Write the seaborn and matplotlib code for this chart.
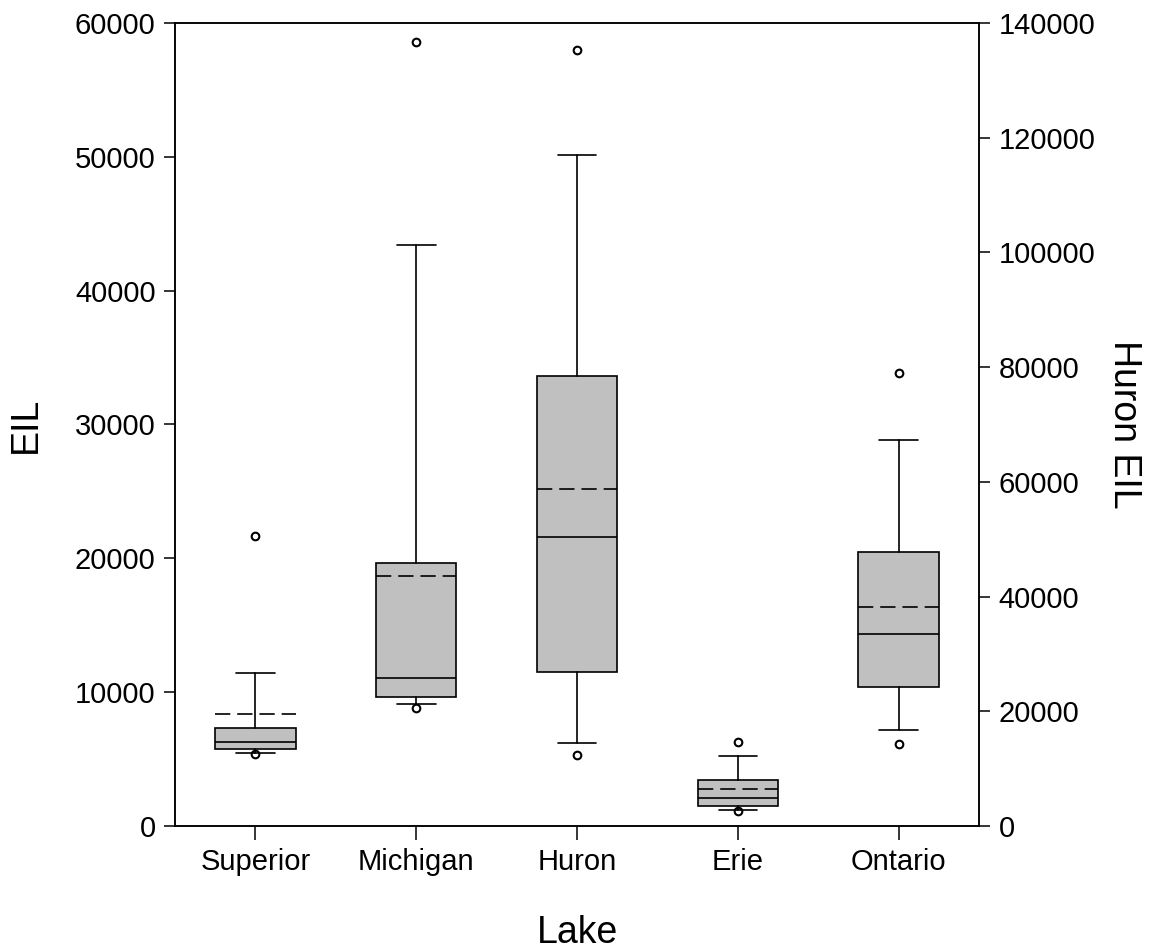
import numpy as np
import matplotlib
matplotlib.use("Agg")
import matplotlib.pyplot as plt
import seaborn as sns

# ---- data ----
lakes = ["Superior", "Michigan", "Huron", "Erie", "Ontario"]
whis_low = [5480, 9100, 14440, 1170, 7160]
q1 = [5730, 9650, 26800, 1470, 10350]
medians = [6300, 11050, 50300, 2090, 14360]
q3 = [7350, 19650, 78400, 3420, 20490]
whis_high = [11450, 43400, 116900, 5240, 28870]
means = [8400, 18650, 58800, 2770, 16330]
outlier_low = [5360, 8850, 12340, 1120, 6110]
outlier_high = [21640, 58600, 135300, 6280, 33830]
right_axis_lake = "Huron"   # plotted against the right-hand axis

left_ticks = [0, 10000, 20000, 30000, 40000, 50000, 60000]
right_ticks = [0, 20000, 40000, 60000, 80000, 100000, 120000, 140000]

sns.set_theme(style="ticks")
plt.rcParams['font.family'] = ['Liberation Sans', 'DejaVu Sans']
plt.rcParams['lines.scale_dashes'] = False
plt.rcParams['text.color'] = 'black'
plt.rcParams['axes.labelcolor'] = 'black'

fig = plt.figure(figsize=(11.53, 9.49), dpi=100)
ax = fig.add_axes([0.1518, 0.1296, 0.6973, 0.8462])
ax2 = ax.twinx()

common = dict(
    widths=0.5, capwidths=0.24, patch_artist=True, showmeans=True, meanline=True,
    boxprops=dict(facecolor="#c0c0c0", edgecolor="black", linewidth=1.2),
    medianprops=dict(color="black", linewidth=1.2),
    meanprops=dict(color="black", linewidth=1.2, linestyle=(0, (11, 5))),
    whiskerprops=dict(color="black", linewidth=1.2),
    capprops=dict(color="black", linewidth=1.2),
    flierprops=dict(marker="o", markerfacecolor="none", markeredgecolor="black",
                    markersize=5.5, markeredgewidth=1.5, linestyle="none"),
)

for i, lake in enumerate(lakes):
    st = dict(label=lake, whislo=whis_low[i], q1=q1[i], med=medians[i], q3=q3[i],
              whishi=whis_high[i], mean=means[i],
              fliers=[outlier_low[i], outlier_high[i]])
    target = ax2 if lake == right_axis_lake else ax
    target.bxp([st], positions=[i], **common)

ax.set_xlim(-0.5, len(lakes) - 0.5)
ax.set_ylim(0, 60000)
ax2.set_ylim(0, 140000)
ax.set_xticks(range(len(lakes)))
ax.set_xticklabels(lakes)
ax.set_yticks(left_ticks)
ax.set_yticklabels([str(t) for t in left_ticks])
ax2.set_yticks(right_ticks)
ax2.set_yticklabels([str(t) for t in right_ticks])

ax.tick_params(axis="both", direction="out", length=8, width=1.1, labelsize=21,
               colors="black", pad=6)
ax.tick_params(axis="x", length=10)
ax2.tick_params(axis="y", direction="out", length=8, width=1.1, labelsize=21,
                colors="black", pad=6)

for a in (ax, ax2):
    for s in a.spines.values():
        s.set_visible(True)
        s.set_linewidth(1.1)
        s.set_color("black")

ax.set_xlabel("Lake", fontsize=27, labelpad=28, color="black")
ax.set_ylabel("EIL", fontsize=27, labelpad=22, color="black")
ax2.set_ylabel("Huron EIL", fontsize=27, rotation=270, va="bottom", labelpad=8,
               color="black")

fig.savefig("out.png", dpi=100, facecolor="white")
